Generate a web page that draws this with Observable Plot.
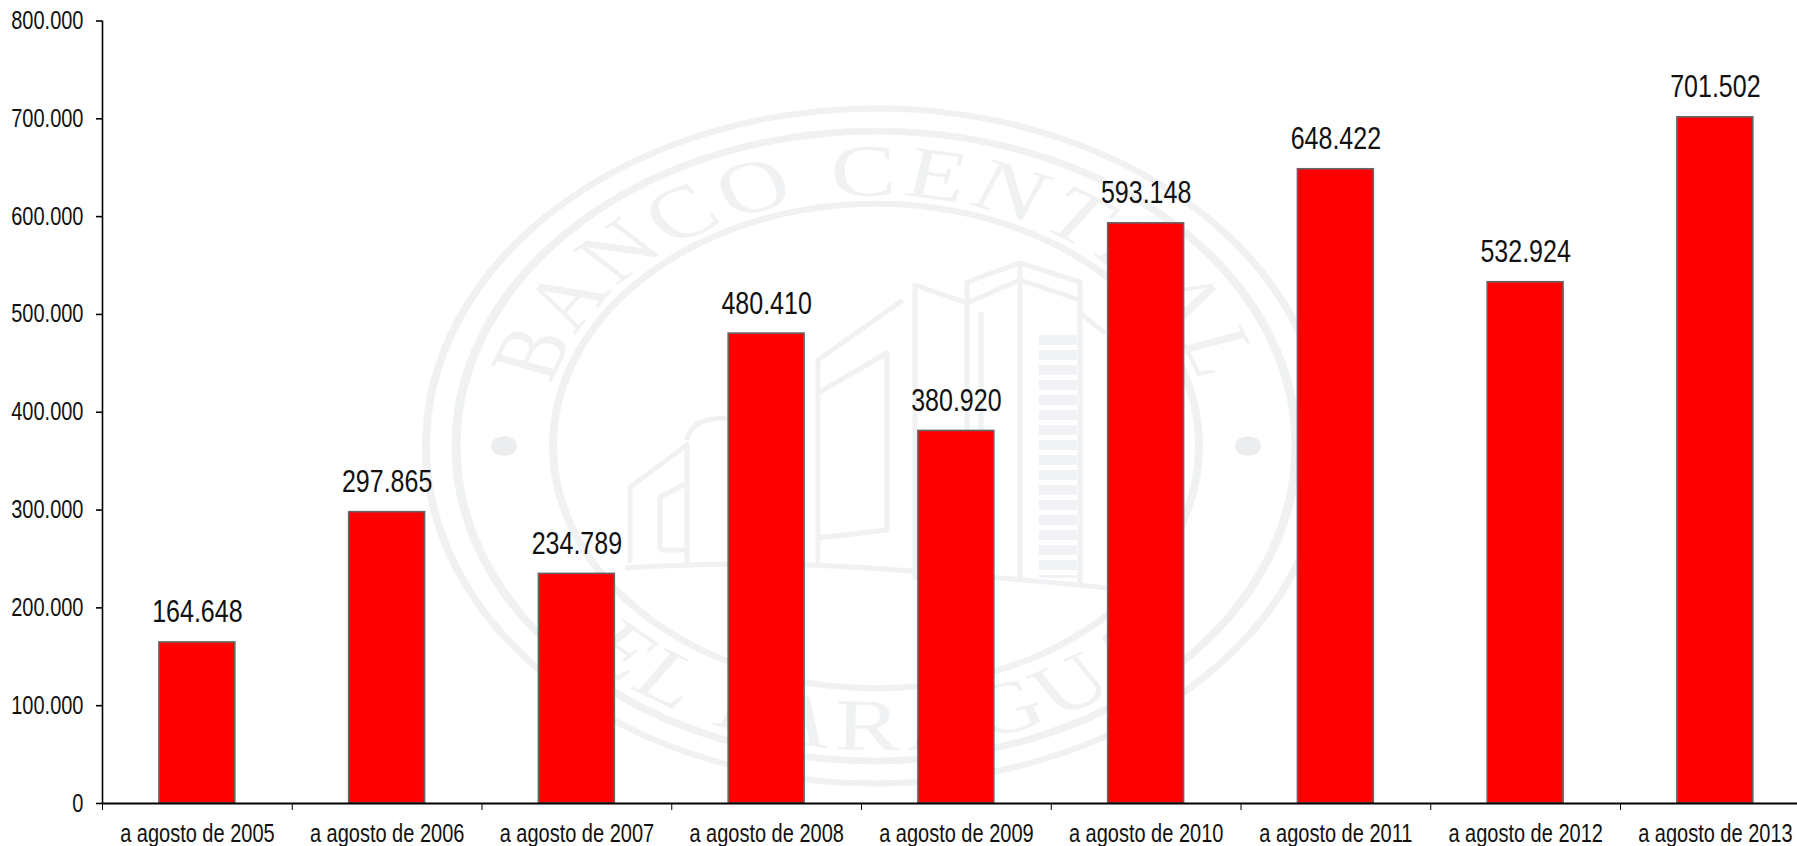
<!DOCTYPE html>
<html><head><meta charset="utf-8">
<style>html,body{margin:0;padding:0;background:#fff;overflow:hidden}svg{display:block}</style>
<script src="https://cdn.jsdelivr.net/npm/d3@7"></script>
<script src="https://cdn.jsdelivr.net/npm/@observablehq/plot@0.6"></script>
</head><body><div id="chart"></div>
<script>
const categories = ["a agosto de 2005","a agosto de 2006","a agosto de 2007","a agosto de 2008","a agosto de 2009","a agosto de 2010","a agosto de 2011","a agosto de 2012","a agosto de 2013"];
const values = [164648,297865,234789,480410,380920,593148,648422,532924,701502];
const yTicks = [0,100000,200000,300000,400000,500000,600000,700000,800000];
const font = '"Liberation Sans",Arial,sans-serif';
const fmt = v => d3.format(",")(v).replace(/,/g,".");
const rows = categories.map((c,i)=>({c,i,v:values[i]}));
const slots = d3.range(categories.length+1);

// Pale seal behind the bars (decoration only, carries no data)
const seal = () => {
  const ink = "#eff1f2";
  const g = d3.create("svg:g").attr("fill","none").attr("stroke",ink);
  const round = g.append("g").attr("transform","translate(876,446) scale(1,0.75)");
  for (const [r,w] of [[450,8],[420,9],[323,8]]) round.append("circle").attr("r",r).attr("stroke-width",w);
  for (const x of [-372,372]) round.append("circle").attr("cx",x).attr("r",13).attr("fill","#ebedef").attr("stroke","none");
  const defs = round.append("defs");
  const arc = (id,r,a0,a1,sweep) => {
    const p = a => [r*Math.sin(a*Math.PI/180), -r*Math.cos(a*Math.PI/180)];
    const [x0,y0]=p(a0),[x1,y1]=p(a1);
    defs.append("path").attr("id",id).attr("d",`M${x0} ${y0}A${r} ${r} 0 0 ${sweep} ${x1} ${y1}`);
  };
  arc("sealTop",334,-88,88,1);
  arc("sealBottom",405,-128,128,0);
  const label = (id,t,spacing) => round.append("text")
    .attr("font-family",'"Liberation Serif",serif').attr("font-size",98).attr("fill",ink).attr("stroke","none")
    .attr("text-anchor","middle").attr("letter-spacing",spacing)
    .append("textPath").attr("href","#"+id).attr("startOffset","50%").text(t);
  label("sealTop","BANCO CENTRAL",5);
  label("sealBottom","DEL PARAGUAY",7);
  const b = g.append("g").attr("stroke-width",5).attr("stroke-linejoin","round");
  [
    "M625 568Q750 560 870 568T1108 588",
    "M630 563V487L687 445V563",
    "M687 440Q690 418 727 418",
    "M660 550V497L687 483M660 550H687",
    "M818 565V360L903 300",
    "M818 393L887 353V530L818 538",
    "M915 580V285L967 303L1020 280L1080 300",
    "M967 580V282L1020 263L1080 282V585",
    "M1020 263V582M981 568V312",
    "M1080 313L1105 333"
  ].forEach(d => b.append("path").attr("d",d));
  g.append("line").attr("x1",1058).attr("x2",1058).attr("y1",335).attr("y2",578)
    .attr("stroke-width",38).attr("stroke","#f0f2f5").attr("stroke-dasharray","10 5");
  return g.node();
};

const chart = Plot.plot({
  width:1797,height:846,marginLeft:102,marginRight:-12.75,marginTop:20.5,marginBottom:43,
  style:{fontFamily:font,background:"#fff"},
  x:{type:"linear",domain:[0,categories.length],axis:null},
  y:{domain:[0,800000],axis:null},
  marks:[
    seal,
    Plot.rectY(rows,{x1:d=>d.i+0.3,x2:d=>d.i+0.7,y1:0,y2:"v",fill:"#ff0000",stroke:"#666666",strokeWidth:1.6}),
    Plot.axisX({anchor:"bottom",ticks:slots,tickSize:7,tickFormat:()=>"",stroke:"#000",strokeWidth:1,label:null}),
    Plot.axisY({anchor:"left",ticks:yTicks,tickSize:6,tickPadding:13,tickFormat:fmt,fontSize:20,fill:"#111",stroke:"#000",strokeWidth:1.6,label:null}),
    Plot.ruleX([0],{stroke:"#000",strokeWidth:1.6}),
    Plot.ruleY([0],{stroke:"#000",strokeWidth:1.8}),
    Plot.text(rows,{x:d=>d.i+0.5,y:"v",text:d=>fmt(d.v),dy:-30,fontSize:25,fill:"#111"}),
    Plot.text(rows,{x:d=>d.i+0.5,y:0,text:"c",dy:30,fontSize:20,fill:"#111"})
  ]
});
// The reference's lettering is stretched vertically: stretch each label about its own anchor.
chart.querySelectorAll("text[transform]").forEach(t => t.setAttribute("transform", t.getAttribute("transform")+" scale(1,1.25)"));
document.getElementById("chart").append(chart);
</script></body></html>
